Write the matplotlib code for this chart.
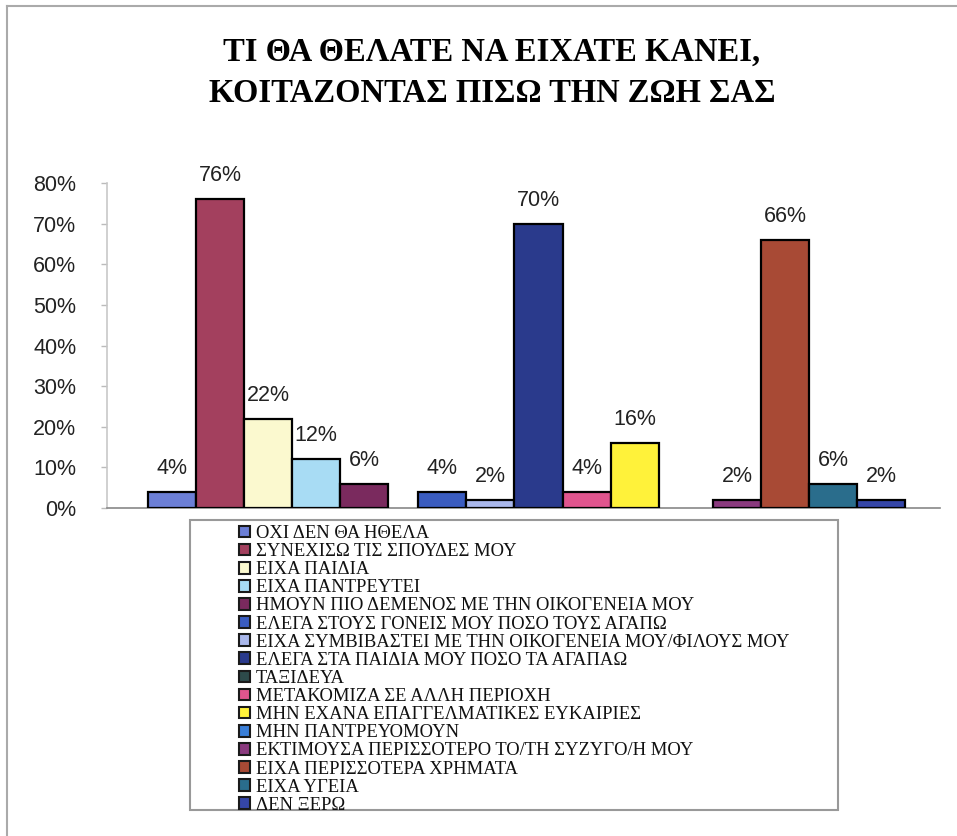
import matplotlib
matplotlib.use("Agg")
import matplotlib.pyplot as plt
from matplotlib.patches import Patch, Rectangle
from matplotlib.lines import Line2D
from matplotlib.ticker import PercentFormatter
from matplotlib import font_manager as fm

# ---------------- data ----------------
title_lines = ["ΤΙ ΘΑ ΘΕΛΑΤΕ ΝΑ ΕΙΧΑΤΕ ΚΑΝΕΙ,", "ΚΟΙΤΑΖΟΝΤΑΣ ΠΙΣΩ ΤΗΝ ΖΩΗ ΣΑΣ"]
series_names = [
    "ΟΧΙ ΔΕΝ ΘΑ ΗΘΕΛΑ",
    "ΣΥΝΕΧΙΣΩ ΤΙΣ ΣΠΟΥΔΕΣ ΜΟΥ",
    "ΕΙΧΑ ΠΑΙΔΙΑ",
    "ΕΙΧΑ ΠΑΝΤΡΕΥΤΕΙ",
    "ΗΜΟΥΝ ΠΙΟ ΔΕΜΕΝΟΣ ΜΕ ΤΗΝ ΟΙΚΟΓΕΝΕΙΑ ΜΟΥ",
    "ΕΛΕΓΑ ΣΤΟΥΣ ΓΟΝΕΙΣ ΜΟΥ ΠΟΣΟ ΤΟΥΣ ΑΓΑΠΩ",
    "ΕΙΧΑ ΣΥΜΒΙΒΑΣΤΕΙ ΜΕ ΤΗΝ ΟΙΚΟΓΕΝΕΙΑ ΜΟΥ/ΦΙΛΟΥΣ ΜΟΥ",
    "ΕΛΕΓΑ ΣΤΑ ΠΑΙΔΙΑ ΜΟΥ ΠΟΣΟ ΤΑ ΑΓΑΠΑΩ",
    "ΤΑΞΙΔΕΥΑ",
    "ΜΕΤΑΚΟΜΙΖΑ ΣΕ ΑΛΛΗ ΠΕΡΙΟΧΗ",
    "ΜΗΝ ΕΧΑΝΑ ΕΠΑΓΓΕΛΜΑΤΙΚΕΣ ΕΥΚΑΙΡΙΕΣ",
    "ΜΗΝ ΠΑΝΤΡΕΥΟΜΟΥΝ",
    "ΕΚΤΙΜΟΥΣΑ ΠΕΡΙΣΣΟΤΕΡΟ ΤΟ/ΤΗ ΣΥΖΥΓΟ/Η ΜΟΥ",
    "ΕΙΧΑ ΠΕΡΙΣΣΟΤΕΡΑ ΧΡΗΜΑΤΑ",
    "ΕΙΧΑ ΥΓΕΙΑ",
    "ΔΕΝ ΞΕΡΩ",
]
series_group = [0, 0, 0, 0, 0, 1, 1, 1, 1, 1, 1, 2, 2, 2, 2, 2]
series_values = [4, 76, 22, 12, 6, 4, 2, 70, None, 4, 16, None, 2, 66, 6, 2]
y_ticks = [0, 10, 20, 30, 40, 50, 60, 70, 80]

# ---------------- style ----------------
series_colors = [
    "#6c7fd6", "#a3405e", "#fbf9cf", "#a8dcf4", "#7a2a5e",
    "#3a5cc0", "#aab8ec", "#2a3a8c", "#2d4a4a", "#e0558e",
    "#fff23a", "#3a7fd8", "#8a3a7e", "#a84a35", "#2a6d8c", "#3546a8",
]

def serif_bold_props(size):
    for f in fm.fontManager.ttflist:
        if f.name == "Liberation Serif" and f.weight in (700, "bold") and f.style == "normal":
            return fm.FontProperties(fname=f.fname, size=size)
    return fm.FontProperties(family=["Liberation Serif", "DejaVu Serif"], weight="bold", size=size)

W, H = 957, 836
DPI = 100
fig = plt.figure(figsize=(W / DPI, H / DPI), dpi=DPI)
fig.patch.set_facecolor("white")

ax_left, ax_right, ax_top, ax_bot = 107, 940, 183, 508
ax = fig.add_axes([ax_left / W, 1 - ax_bot / H, (ax_right - ax_left) / W, (ax_bot - ax_top) / H])

bar_w = 0.1775
xlim = (-0.5952, 2.4843)

# bars
for g in sorted(set(series_group)):
    idx = [i for i, gg in enumerate(series_group) if gg == g and series_values[i] is not None]
    n = len(idx)
    for k, i in enumerate(idx):
        x = g + (k - (n - 1) / 2) * bar_w
        v = series_values[i]
        ax.bar(x, v, width=bar_w, color=series_colors[i], edgecolor="black", linewidth=1.6, zorder=3)
        ax.annotate(f"{v}%", (x, v), xytext=(0, 13), textcoords="offset points",
                    ha="center", va="baseline", fontsize=15.5, family="Liberation Sans",
                    color="#222222", zorder=4)

ax.set_xlim(*xlim)
ax.set_ylim(0, 80)
ax.set_yticks(y_ticks)
ax.yaxis.set_major_formatter(PercentFormatter(decimals=0))
ax.set_xticks([])
for lab in ax.get_yticklabels():
    lab.set_family("Liberation Sans")
    lab.set_fontsize(15.5)
    lab.set_color("#222222")
ax.tick_params(axis="y", direction="out", length=4, width=1, color="#bbbbbb", pad=18)
ax.spines["top"].set_visible(False)
ax.spines["right"].set_visible(False)
ax.spines["left"].set_color("#c8c8c8")
ax.spines["left"].set_linewidth(1.2)
ax.spines["bottom"].set_color("#888888")
ax.spines["bottom"].set_linewidth(1.2)
ax.set_facecolor("none")

renderer = fig.canvas.get_renderer()

# title (fit width of first line)
t1 = fig.text(492 / W, 1 - 52 / H, title_lines[0], ha="center", va="center",
              fontproperties=serif_bold_props(22))
w1 = t1.get_window_extent(renderer).width
fs_title = 22 * 536 / w1
t1.set_fontsize(fs_title)
t2 = fig.text(492 / W, 1 - 93 / H, title_lines[1], ha="center", va="center",
              fontproperties=serif_bold_props(fs_title))

# legend font size fitted to longest label width
longest = max(series_names, key=len)
tmp = fig.text(0, 0, longest, family="Liberation Serif", fontsize=11)
lw_px = tmp.get_window_extent(renderer).width
tmp.remove()
fs_leg = 11 * 534 / lw_px

handles = [Patch(facecolor=c, edgecolor="#1a1a1a", linewidth=1.5) for c in series_colors]
em = fs_leg * DPI / 72
leg = fig.legend(handles, series_names, loc="upper left",
                 bbox_to_anchor=(239 / W, 1 - 525 / H), frameon=False,
                 prop={"family": "Liberation Serif", "size": fs_leg},
                 handlelength=11 / em, handleheight=11 / em, handletextpad=6 / em,
                 labelspacing=0.06, borderpad=0, borderaxespad=0)
for t in leg.get_texts():
    t.set_color("#111111")

# legend frame
fig.patches.append(Rectangle((190 / W, 1 - 810 / H), (838 - 190) / W, (810 - 520) / H,
                             transform=fig.transFigure, facecolor="none",
                             edgecolor="#999999", linewidth=1.5))

# outer chart border (left and top)
fig.lines.append(Line2D([7 / W, 7 / W], [0, 1 - 6 / H], transform=fig.transFigure,
                        color="#aaaaaa", linewidth=1.5))
fig.lines.append(Line2D([7 / W, 1], [1 - 6 / H, 1 - 6 / H], transform=fig.transFigure,
                        color="#aaaaaa", linewidth=1.5))

fig.savefig("out.png", dpi=DPI)
